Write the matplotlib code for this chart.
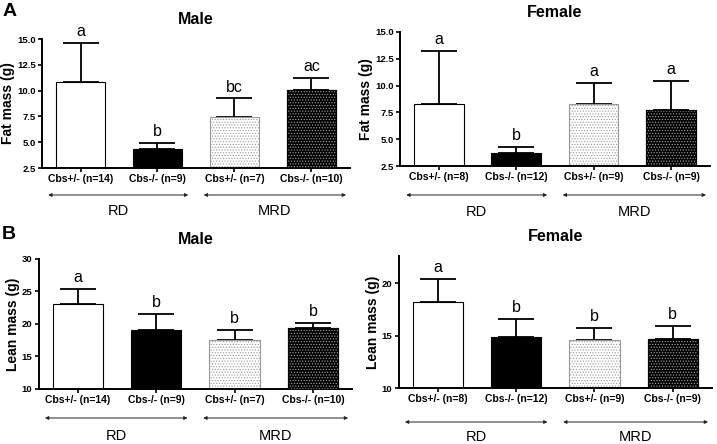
import matplotlib.pyplot as plt
import matplotlib.transforms as mtransforms

# data
groups_male = ["Cbs+/- (n=14)", "Cbs-/- (n=9)", "Cbs+/- (n=7)", "Cbs-/- (n=10)"]
groups_fat_female = ["Cbs+/- (n=8)", "Cbs-/- (n=12)", "Cbs+/- (n=9)", "Cbs-/- (n=9)"]
groups_lean_female = ["Cbs+/- (n=8)", "Cbs-/- (n=12)", "Cbs+/- (n=9)", "Cbs-/- (n=9)"]

fat_male = [10.8, 4.35, 7.45, 10.1]
fat_male_err = [3.8, 0.6, 1.8, 1.1]
fat_male_sig = ["a", "b", "bc", "ac"]

fat_female = [8.25, 3.7, 8.3, 7.75]
fat_female_err = [4.95, 0.6, 1.9, 2.7]
fat_female_sig = ["a", "b", "a", "a"]

lean_male = [23.1, 19.1, 17.6, 19.3]
lean_male_err = [2.3, 2.4, 1.5, 0.9]
lean_male_sig = ["a", "b", "b", "b"]

lean_female = [18.2, 14.85, 14.6, 14.7]
lean_female_err = [2.2, 1.75, 1.1, 1.2]
lean_female_sig = ["a", "b", "b", "b"]

fig = plt.figure(figsize=(7.17, 4.44), dpi=100)
plt.rcParams['font.family'] = ['Liberation Sans', 'DejaVu Sans']
plt.rcParams['hatch.linewidth'] = 0.5


def panel(rect, labels, vals, errs, sig, ylim, yticks, yfmt, ylabel, title, arrow_y, text_y):
    ax = fig.add_axes(rect)
    x = range(len(vals))
    w = 0.64
    # plain bars
    ax.bar(x[0], vals[0], w, color="white", edgecolor="black", lw=0.8, zorder=2)
    ax.bar(x[1], vals[1], w, color="black", edgecolor="black", lw=0.8, zorder=2)
    ax.bar(x[2], vals[2], w, color="white", edgecolor="#999999", lw=0.8,
           hatch="......", zorder=2)
    ax.bar(x[3], vals[3], w, color="black", edgecolor="black", lw=0.8, zorder=2)
    ax.bar(x[3], vals[3], w, color="none", edgecolor="#aaaaaa", lw=0,
           hatch="......", zorder=3)
    ax.bar(x[3], vals[3], w, color="none", edgecolor="black", lw=0.8, zorder=4)
    ax.errorbar(x, vals, yerr=[[0] * len(vals), errs], fmt="none", ecolor="black",
                elinewidth=1.3, capsize=13, capthick=1.3, zorder=1)
    span = ylim[1] - ylim[0]
    for xi, v, e, s in zip(x, vals, errs, sig):
        ax.text(xi, v + e + span * 0.03, s, ha="center", va="bottom", fontsize=11.5)
    ax.set_xlim(-0.5, 3.5)
    ax.set_ylim(*ylim)
    ax.set_yticks(yticks)
    ax.set_yticklabels([yfmt.format(t) for t in yticks], fontsize=6.8, fontweight="bold")
    ax.set_xticks(list(x))
    ax.set_xticklabels(labels, fontsize=7.5, fontweight="bold")
    ax.tick_params(axis="both", length=3, width=1.2, pad=1.5)
    ax.spines["top"].set_visible(False)
    ax.spines["right"].set_visible(False)
    ax.spines["left"].set_linewidth(1.4)
    ax.spines["bottom"].set_linewidth(1.4)
    ax.set_ylabel(ylabel, fontsize=10, fontweight="bold", labelpad=1.5)
    ax.set_title(title, fontsize=11.5, fontweight="bold", pad=11)
    tr = mtransforms.blended_transform_factory(ax.transData, fig.transFigure)
    for a, b, name in [(-0.42, 1.4, "RD"), (1.6, 3.45, "MRD")]:
        ax.annotate("", xy=(a, arrow_y), xytext=(b, arrow_y), xycoords=tr, textcoords=tr,
                    arrowprops=dict(arrowstyle="<|-|>", color="#222222", lw=0.7,
                                    mutation_scale=5, shrinkA=0, shrinkB=0))
        ax.text((a + b) / 2, text_y, name, transform=tr, ha="center", va="center", fontsize=10.5)
    return ax


panel([0.0586, 0.6216, 0.4294, 0.2904], groups_male, fat_male, fat_male_err, fat_male_sig,
      (2.5, 15.0), [2.5, 5.0, 7.5, 10.0, 12.5, 15.0], "{:.1f}", "Fat mass (g)", "Male",
      1 - 195 / 444, 1 - 211 / 444)
panel([0.558, 0.626, 0.432, 0.302], groups_fat_female, fat_female, fat_female_err, fat_female_sig,
      (2.5, 15.0), [2.5, 5.0, 7.5, 10.0, 12.5, 15.0], "{:.1f}", "Fat mass (g)", "Female",
      1 - 195 / 444, 1 - 212 / 444)
panel([0.054, 0.124, 0.437, 0.293], groups_male, lean_male, lean_male_err, lean_male_sig,
      (10, 30), [10, 15, 20, 25, 30], "{:d}", "Lean mass (g)", "Male",
      1 - 418 / 444, 1 - 436 / 444)
panel([0.556, 0.126, 0.437, 0.297], groups_lean_female, lean_female, lean_female_err, lean_female_sig,
      (10, 22.6), [10, 15, 20], "{:d}", "Lean mass (g)", "Female",
      1 - 422 / 444, 1 - 437 / 444)

fig.text(0.003, 0.975, "A", fontsize=14, fontweight="bold", va="center")
fig.text(0.003, 0.472, "B", fontsize=14, fontweight="bold", va="center")

fig.savefig("out.png", dpi=100)
